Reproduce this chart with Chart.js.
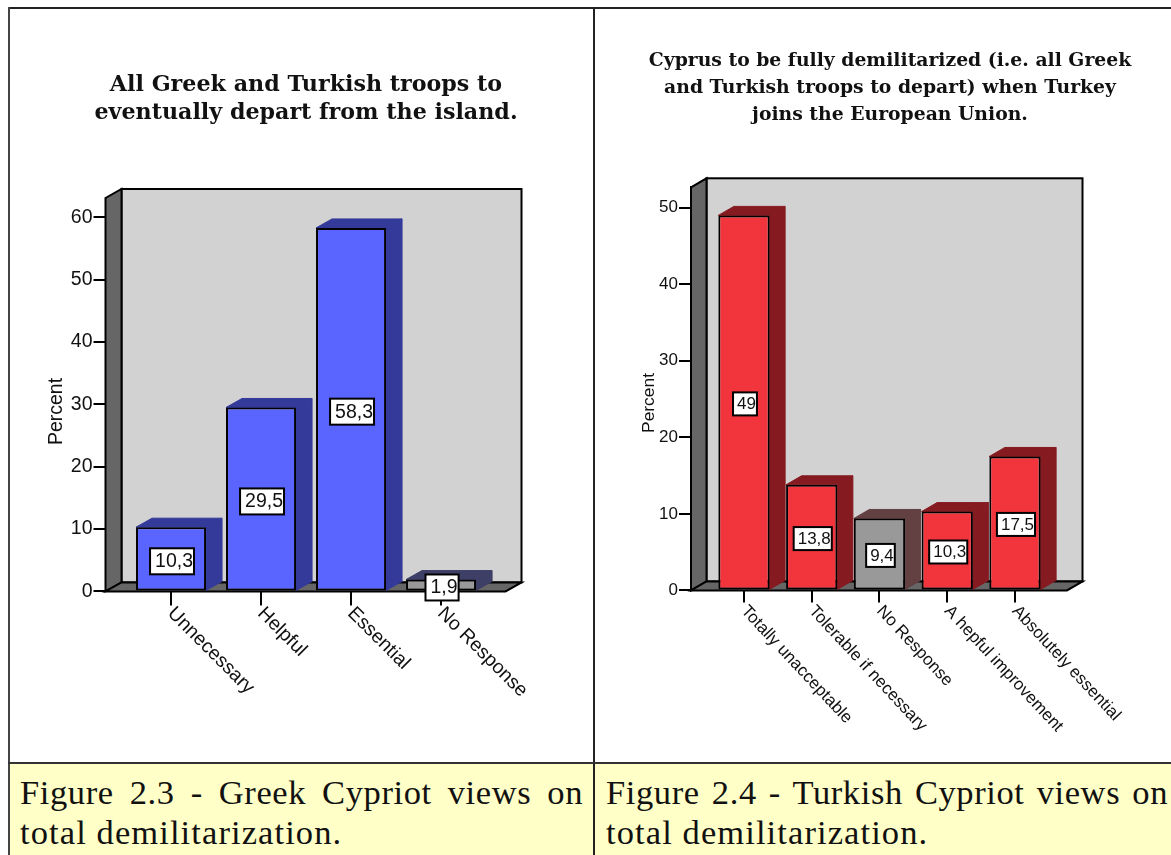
<!DOCTYPE html>
<html><head><meta charset="utf-8">
<script src="https://cdn.jsdelivr.net/npm/chart.js@4"></script>
<style>
html,body{margin:0;padding:0;background:#fff;width:1171px;height:855px;overflow:hidden}
canvas{position:absolute;display:block}
.line{position:absolute;background:#222}
.cap{position:absolute;top:763px;height:92px;background:#ffffc8}
.cap div{position:absolute;font:34.5px/40px "Liberation Serif",serif;letter-spacing:1.1px;color:#111;white-space:nowrap}
.cap .a{text-align:justify;text-align-last:justify;white-space:normal;letter-spacing:0.6px}
</style></head><body>
<div class="cap" style="left:9px;width:584px"><div class="a" style="left:11px;top:9px;width:563px">Figure 2.3 - Greek Cypriot views on</div><div style="left:11px;top:49px">total demilitarization.</div></div>
<div class="cap" style="left:595px;width:576px"><div class="a" style="left:11px;top:9px;width:562px">Figure 2.4 - Turkish Cypriot views on</div><div style="left:11px;top:49px">total demilitarization.</div></div>
<div class="line" style="left:8px;top:7px;width:1163px;height:2px"></div>
<div class="line" style="left:8px;top:7px;width:2px;height:848px;background:#444"></div>
<div class="line" style="left:593px;top:7px;width:2px;height:848px"></div>
<div class="line" style="left:8px;top:762px;width:1163px;height:2px;background:#333"></div>
<canvas id="greek" width="572" height="750" style="left:20px;top:9px"></canvas>
<canvas id="turkish" width="562" height="750" style="left:609px;top:9px"></canvas>
<script>
const greekTitle = ["All Greek and Turkish troops to", "eventually depart from the island."];
const greekCategories = ["Unnecessary", "Helpful", "Essential", "No Response"];
const greekValues = [10.3, 29.5, 58.3, 1.9];
const greekFront = ["#5a64ff", "#5a64ff", "#5a64ff", "#999999"];
const greekSide = ["#343a99", "#343a99", "#343a99", "#3d3f66"];

const turkishTitle = ["Cyprus to be fully demilitarized (i.e. all Greek", "and Turkish troops to depart) when Turkey", "joins the European Union."];
const turkishCategories = ["Totally unacceptable", "Tolerable if necessary", "No Response", "A hepful improvement", "Absolutely essential"];
const turkishValues = [49, 13.8, 9.4, 10.3, 17.5];
const turkishFront = ["#f2343c", "#f2343c", "#999999", "#f2343c", "#f2343c"];
const turkishSide = ["#851b20", "#851b20", "#634042", "#851b20", "#851b20"];

const yAxisLabel = "Percent";
const valueTicks = 10;
const FONT = '"Liberation Sans", Arial, sans-serif';

function fmt(v){ return String(v).replace('.', ','); }

function make3d(o){
  return {
    id: 'fake3d',
    beforeDraw(chart){
      chart.titleBlock.left = 0; chart.titleBlock.right = chart.width;
    },
    beforeDatasetsDraw(chart){
      const c = chart.ctx, a = chart.chartArea, dx = o.dx, dy = o.dy;
      const L = a.left, R = a.right, T = a.top, B = a.bottom;
      c.save();
      c.lineWidth = 2; c.strokeStyle = '#000'; c.lineJoin = 'miter';
      c.fillStyle = '#d2d2d2';
      c.fillRect(L+dx, T-dy, R-L, B-T); c.strokeRect(L+dx, T-dy, R-L, B-T);
      const poly = (pts, fill, stroke) => {
        c.beginPath(); pts.forEach((p,i)=> i? c.lineTo(p[0],p[1]) : c.moveTo(p[0],p[1])); c.closePath();
        c.fillStyle = fill; c.fill(); c.strokeStyle = stroke; c.stroke();
      };
      poly([[L,T],[L+dx,T-dy],[L+dx,B-dy],[L,B]], '#666666', '#000');
      poly([[L,B],[R,B],[R+dx,B-dy],[L+dx,B-dy]], '#666666', '#000');
      c.lineWidth = 1;
      chart.getDatasetMeta(0).data.forEach((bar,i)=>{
        const w = bar.width/2, l = bar.x-w, r = bar.x+w, t = bar.y, b = bar.base;
        poly([[l,t],[l+dx,t-dy],[r+dx,t-dy],[r,t]], o.side[i], o.side[i]);
        poly([[r,t],[r+dx,t-dy],[r+dx,b-dy],[r,b]], o.side[i], o.side[i]);
      });
      c.restore();
    },
    afterDatasetsDraw(chart){
      const c = chart.ctx, xs = chart.scales.x;
      c.save();
      c.font = o.labelSize + 'px ' + FONT; c.fillStyle = '#111';
      c.textAlign = 'left'; c.textBaseline = 'middle';
      xs.ticks.forEach((t,i)=>{
        c.save();
        c.translate(xs.getPixelForTick(i) + o.labelDx, chart.chartArea.bottom + o.labelDy);
        c.rotate(Math.PI/180*o.labelAngle);
        c.fillText(t.label, 0, 0);
        c.restore();
      });
      c.font = o.valueSize + 'px ' + FONT;
      chart.getDatasetMeta(0).data.forEach((bar,i)=>{
        const s = fmt(o.values[i]), tw = c.measureText(s).width, w = tw + o.boxPad, h = o.boxH;
        const x = bar.x + o.boxDx - w/2, y = (bar.y+bar.base)/2 + o.boxDy - h/2;
        c.fillStyle = '#fff'; c.fillRect(x,y,w,h);
        c.lineWidth = 2; c.strokeStyle = '#000'; c.strokeRect(x,y,w,h);
        c.fillStyle = '#111'; c.textAlign = 'left'; c.textBaseline = 'middle';
        c.fillText(s, x + o.boxPad - 1, y + h/2 + 0.5);
      });
      c.save();
      c.translate(o.yTitleX, o.yTitleY); c.rotate(-Math.PI/2);
      c.font = o.yTitleSize + 'px ' + FONT; c.textAlign = 'center'; c.textBaseline = 'middle';
      c.fillText(yAxisLabel, 0, 0);
      c.restore();
      c.restore();
    }
  };
}

function build(id, o){
  return new Chart(document.getElementById(id), {
    type: 'bar',
    data: { datasets: [{
      data: o.values.map((v,i)=>({x:i,y:v})),
      backgroundColor: o.front, borderColor: '#000', borderWidth: 2, borderSkipped: false,
      categoryPercentage: 1, barPercentage: o.barFrac
    }]},
    options: {
      responsive: false, animation: false,
      layout: { padding: { top: 0, left: 0, bottom: 0, right: o.padRight } },
      plugins: {
        legend: { display: false }, tooltip: { enabled: false },
        title: { display: true, text: o.title, color: '#111',
          font: { family: '"DejaVu Serif", serif', weight: 'bold', size: o.titleSize, lineHeight: o.titleLH/o.titleSize },
          padding: { top: o.titleTop, bottom: o.titleBottom } }
      },
      scales: {
        x: { type: 'linear', min: o.xMin, max: o.xMax, offset: false,
          afterFit(s){ s.height = o.xHeight; },
          afterBuildTicks(s){ s.ticks = o.categories.map((_,i)=>({value:i})); },
          border: { color: '#000', width: 2 },
          grid: { offset: false, drawOnChartArea: false, color: '#000', lineWidth: 2, tickLength: o.xTick, tickColor: '#000' },
          ticks: { display: false, callback: v => o.categories[v] }
        },
        y: { min: 0, max: o.yMax,
          afterFit(s){ s.width = o.yWidth; },
          border: { color: '#000', width: 2 },
          grid: { drawOnChartArea: false, color: '#000', lineWidth: 2, tickLength: o.yTick, tickColor: '#000' },
          ticks: { stepSize: valueTicks, includeBounds: false, color: '#111', padding: 1,
            font: { family: FONT, size: o.tickSize } }
        }
      }
    },
    plugins: [make3d(o)]
  });
}

build('greek', {
  title: greekTitle, categories: greekCategories, values: greekValues, front: greekFront, side: greekSide,
  barFrac: 0.778, padRight: 86.5, titleSize: 22.2, titleLH: 28, titleTop: 62.5, titleBottom: 70.5,
  xMin: -0.728, xMax: 3.716, xHeight: 167.6, xTick: 14, yMax: 63.1, yWidth: 85.5, yTick: 12, tickSize: 19.5,
  dx: 16, dy: 9, labelSize: 19.5, labelDx: -0.5, labelDy: 19, labelAngle: 45,
  valueSize: 19.5, boxPad: 6, boxH: 26, boxDx: 1, boxDy: 2.5, yTitleX: 36.5, yTitleY: 402.5, yTitleSize: 19.5
});
build('turkish', {
  title: turkishTitle, categories: turkishCategories, values: turkishValues, front: turkishFront, side: turkishSide,
  barFrac: 0.757, padRight: 104, titleSize: 18.8, titleLH: 27, titleTop: 38.5, titleBottom: 58.8,
  xMin: -0.782, xMax: 4.768, xHeight: 168.6, xTick: 12, yMax: 52.67, yWidth: 82, yTick: 12, tickSize: 17,
  dx: 15.5, dy: 9, labelSize: 17, labelDx: 0, labelDy: 18, labelAngle: 47,
  valueSize: 17, boxPad: 5, boxH: 23, boxDx: 1, boxDy: 1.5, yTitleX: 40.5, yTitleY: 394, yTitleSize: 17.4
});
</script>
</body></html>
